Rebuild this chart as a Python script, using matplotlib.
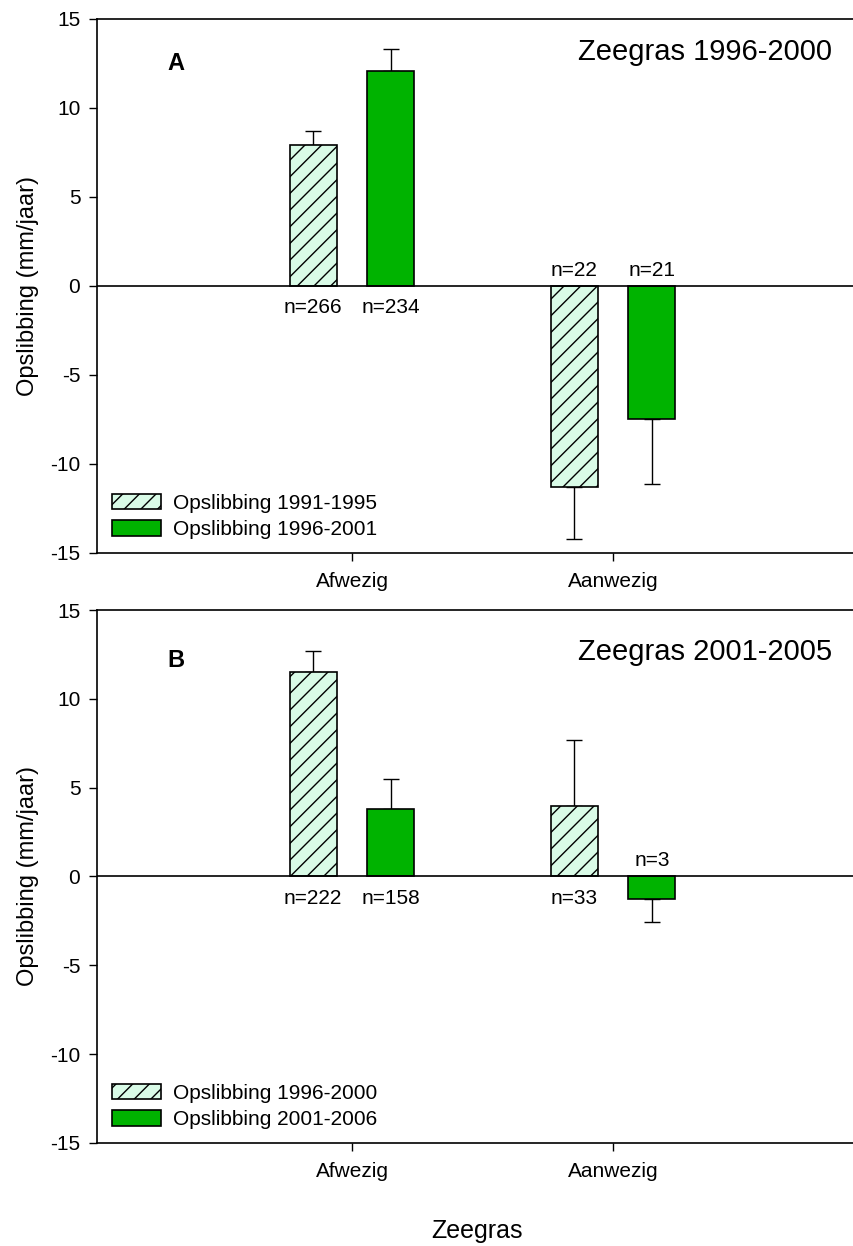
import matplotlib
matplotlib.use('Agg')
import matplotlib.pyplot as plt
import numpy as np

plt.rcParams['font.family'] = ['Liberation Sans', 'DejaVu Sans']
plt.rcParams['hatch.linewidth'] = 1.0
plt.rcParams['axes.unicode_minus'] = False

# gegevens
categories = ['Afwezig', 'Aanwezig']

# paneel A: zeegras 1996-2000
a_labels = ['Opslibbing 1991-1995', 'Opslibbing 1996-2001']
a_old = [7.9, -11.3]
a_old_err = [0.8, 2.9]
a_new = [12.1, -7.5]
a_new_err = [1.2, 3.6]
a_old_n = ['n=266', 'n=22']
a_new_n = ['n=234', 'n=21']

# paneel B: zeegras 2001-2005
b_labels = ['Opslibbing 1996-2000', 'Opslibbing 2001-2006']
b_old = [11.5, 3.95]
b_old_err = [1.2, 3.75]
b_new = [3.8, -1.25]
b_new_err = [1.7, 1.3]
b_old_n = ['n=222', 'n=33']
b_new_n = ['n=158', 'n=3']

light = '#d9fbe7'
green = '#00b300'
width = 0.18
offset = 0.149


def panel(ax, old, old_err, new, new_err, old_n, new_n, labels, letter, title, ty, ly):
    x = np.arange(1, len(categories) + 1)
    b1 = ax.bar(x - offset, old, width, color=light, edgecolor='black',
                linewidth=1.2, hatch='//', label=labels[0], zorder=2)
    b2 = ax.bar(x + offset, new, width, color=green, edgecolor='black',
                linewidth=1.2, label=labels[1], zorder=2)

    # eenzijdige foutbalken, weg van nul
    for xs, vals, errs in [(x - offset, old, old_err), (x + offset, new, new_err)]:
        lower = [0 if v >= 0 else e for v, e in zip(vals, errs)]
        upper = [e if v >= 0 else 0 for v, e in zip(vals, errs)]
        ax.errorbar(xs, vals, yerr=[lower, upper], fmt='none', ecolor='black',
                    elinewidth=1.0, capsize=6, capthick=1.0, zorder=1)

    # n-waarden
    for xs, vals, ns in [(x - offset, old, old_n), (x + offset, new, new_n)]:
        for xi, v, n in zip(xs, vals, ns):
            if v >= 0:
                ax.annotate(n, (xi, 0), xytext=(0, -9), textcoords='offset points',
                            ha='center', va='top', fontsize=15)
            else:
                ax.annotate(n, (xi, 0), xytext=(0, 7.5), textcoords='offset points',
                            ha='center', va='baseline', fontsize=15)

    ax.axhline(0, color='black', linewidth=1.2, zorder=3)
    ax.set_xlim(0.023, 2.923)
    ax.set_ylim(-15, 15)
    ax.set_yticks([-15, -10, -5, 0, 5, 10, 15])
    ax.set_xticks(x)
    ax.set_xticklabels(categories)
    ax.tick_params(axis='y', direction='out', length=6, width=1, labelsize=15, pad=6)
    ax.tick_params(axis='x', direction='out', length=6, width=1, labelsize=15, pad=8)
    ax.spines['right'].set_visible(False)
    for s in ['left', 'top', 'bottom']:
        ax.spines[s].set_linewidth(1.2)
    ax.set_ylabel('Opslibbing (mm/jaar)', fontsize=17, labelpad=8)

    ax.text(0.0925, ly, letter, transform=ax.transAxes, fontsize=17,
            fontweight='bold', va='baseline', ha='left')
    ax.text(0.971, ty, title, transform=ax.transAxes, fontsize=21,
            va='baseline', ha='right')

    ax.legend(handles=[b1, b2], loc='lower left', frameon=False, fontsize=15,
              handlelength=2.35, handleheight=0.75, handletextpad=0.55,
              labelspacing=0.35, borderaxespad=0, bbox_to_anchor=(0.0094, 0.01))


fig = plt.figure(figsize=(8.54, 12.46), dpi=100)
ax1 = fig.add_axes([0.1136, 0.5562, 0.8864, 0.4286])
ax2 = fig.add_axes([0.1136, 0.0827, 0.8864, 0.4277])

panel(ax1, a_old, a_old_err, a_new, a_new_err, a_old_n, a_new_n, a_labels,
      'A', 'Zeegras 1996-2000', 0.923, 0.9045)
panel(ax2, b_old, b_old_err, b_new, b_new_err, b_old_n, b_new_n, b_labels,
      'B', 'Zeegras 2001-2005', 0.906, 0.893)

fig.text(0.559, 0.0064, 'Zeegras', fontsize=18, ha='center', va='baseline')

fig.savefig('out.png', dpi=100)
